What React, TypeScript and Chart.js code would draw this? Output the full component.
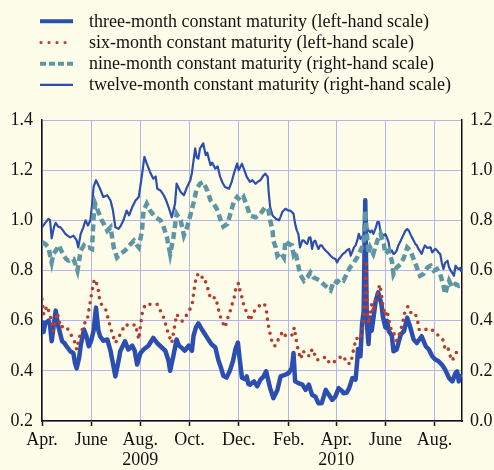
import React, { useEffect, useRef } from 'react';
import { Chart, registerables } from 'chart.js';

Chart.register(...registerables);

// ---- axis ticks (month starts), x values are days since 1 Apr 2009 ----
const tickMonths: [number, number][] = [
  [2009, 3], [2009, 5], [2009, 7], [2009, 9], [2009, 11],
  [2010, 1], [2010, 3], [2010, 5], [2010, 7],
];
const tickLabels = ['Apr.', 'June', 'Aug.', 'Oct.', 'Dec.', 'Feb.', 'Apr.', 'June', 'Aug.'];
const tickYears = ['', '', '2009', '', '', '', '2010', '', ''];
const START = Date.UTC(2009, 3, 1);
const tickDays = tickMonths.map(([y, m]) => Math.round((Date.UTC(y, m, 1) - START) / 86400000));
const X_MAX = 521;

const leftTicks = [0.2, 0.4, 0.6, 0.8, 1.0, 1.2, 1.4];
const rightTicks = [0.0, 0.2, 0.4, 0.6, 0.8, 1.0, 1.2];

// ---- three-month (left-hand scale) ----
const threeMonthDay = [
  0, 2, 4, 8, 10, 12, 17, 20, 25, 28,
  30, 35, 39, 41, 43, 46, 48, 52, 55, 58,
  61, 64, 67, 70, 72, 76, 81, 85, 88, 91,
  95, 97, 103, 107, 112, 115, 118, 122, 126, 132,
  138, 143, 147, 153, 157, 159, 163, 167, 170, 173,
  177, 182, 186, 188, 191, 194, 198, 202, 206, 210,
  215, 219, 222, 225, 229, 233, 237, 240, 243, 245,
  248, 252, 254, 256, 258, 263, 267, 271, 275, 278,
  283, 287, 292, 296, 302, 306, 310, 312, 314, 318,
  323, 327, 331, 335, 339, 343, 347, 352, 356, 360,
  364, 368, 372, 374, 378, 381, 385, 389, 391, 392,
  395, 397, 399, 401, 403, 405, 407, 409, 411, 414,
  417, 421, 423, 426, 428, 430, 434, 436, 440, 445,
  449, 453, 457, 461, 465, 471, 476, 480, 484, 488,
  492, 496, 500, 505, 509, 513, 515, 517, 519,
];
const threeMonthRate = [
  0.60, 0.555, 0.59, 0.60, 0.58, 0.518, 0.64, 0.58, 0.518, 0.51,
  0.50, 0.478, 0.47, 0.43, 0.41, 0.45, 0.50, 0.565, 0.54, 0.498,
  0.52, 0.56, 0.652, 0.56, 0.538, 0.52, 0.525, 0.48, 0.43, 0.378,
  0.44, 0.478, 0.518, 0.485, 0.50, 0.48, 0.425, 0.47, 0.485, 0.50,
  0.531, 0.51, 0.498, 0.48, 0.44, 0.40, 0.46, 0.525, 0.50, 0.493,
  0.48, 0.50, 0.48, 0.54, 0.573, 0.589, 0.567, 0.547, 0.527, 0.507,
  0.493, 0.44, 0.413, 0.38, 0.373, 0.40, 0.44, 0.487, 0.513, 0.453,
  0.373, 0.367, 0.378, 0.347, 0.345, 0.358, 0.338, 0.365, 0.378, 0.398,
  0.331, 0.291, 0.324, 0.378, 0.385, 0.391, 0.411, 0.471, 0.358, 0.351,
  0.345, 0.324, 0.345, 0.304, 0.298, 0.271, 0.271, 0.324, 0.304, 0.284,
  0.298, 0.331, 0.32, 0.311, 0.313, 0.331, 0.371, 0.365, 0.438, 0.487,
  0.458, 0.585, 0.638, 1.08, 0.587, 0.507, 0.613, 0.56, 0.607, 0.68,
  0.713, 0.667, 0.613, 0.573, 0.60, 0.56, 0.54, 0.478, 0.485, 0.545,
  0.558, 0.612, 0.572, 0.525, 0.511, 0.538, 0.498, 0.485, 0.458, 0.445,
  0.438, 0.425, 0.405, 0.371, 0.358, 0.391, 0.398, 0.358, 0.39,
];

// ---- six-month (left-hand scale) ----
const sixMonthDay = [
  0, 2, 6, 10, 14, 19, 23, 27, 31, 37,
  40, 43, 46, 50, 54, 56, 59, 62, 65, 69,
  72, 79, 85, 91, 97, 103, 110, 116, 120, 124,
  128, 136, 143, 151, 157, 161, 167, 174, 180, 186,
  190, 193, 196, 200, 204, 207, 209, 215, 218, 220,
  223, 227, 230, 233, 236, 239, 241, 244, 246, 248,
  251, 254, 258, 262, 266, 272, 276, 279, 280, 282,
  284, 287, 290, 294, 299, 302, 306, 311, 313, 315,
  316, 318, 321, 324, 328, 333, 335, 338, 341, 345,
  347, 352, 357, 363, 368, 374, 378, 383, 387, 390,
  393, 397, 399, 401, 402, 403, 405, 407, 409, 411,
  413, 415, 417, 419, 421, 423, 426, 428, 430, 434,
  436, 440, 444, 447, 450, 454, 458, 463, 466, 468,
  473, 479, 483, 487, 492, 497, 499, 501, 504, 507,
  509, 512, 514, 517,
];
const sixMonthRate = [
  0.685, 0.625, 0.658, 0.625, 0.558, 0.632, 0.572, 0.58, 0.572, 0.538,
  0.52, 0.485, 0.53, 0.565, 0.598, 0.60, 0.658, 0.718, 0.765, 0.74,
  0.672, 0.645, 0.572, 0.511, 0.545, 0.585, 0.578, 0.585, 0.525, 0.625,
  0.665, 0.665, 0.665, 0.612, 0.545, 0.511, 0.625, 0.598, 0.625, 0.66,
  0.753, 0.784, 0.767, 0.776, 0.747, 0.713, 0.687, 0.693, 0.66, 0.627,
  0.60, 0.573, 0.607, 0.633, 0.667, 0.70, 0.74, 0.749, 0.713, 0.693,
  0.653, 0.633, 0.60, 0.633, 0.647, 0.667, 0.667, 0.629, 0.593, 0.563,
  0.531, 0.50, 0.50, 0.533, 0.557, 0.54, 0.537, 0.544, 0.573, 0.53,
  0.513, 0.477, 0.447, 0.48, 0.46, 0.46, 0.487, 0.467, 0.443, 0.447,
  0.447, 0.456, 0.429, 0.437, 0.451, 0.46, 0.429, 0.429, 0.493, 0.531,
  0.523, 0.547, 0.613, 0.72, 0.84, 0.653, 0.587, 0.62, 0.667, 0.633,
  0.67, 0.693, 0.72, 0.744, 0.707, 0.653, 0.62, 0.64, 0.607, 0.553,
  0.553, 0.52, 0.553, 0.587, 0.633, 0.657, 0.629, 0.629, 0.597, 0.563,
  0.563, 0.567, 0.567, 0.553, 0.54, 0.527, 0.50, 0.48, 0.487, 0.453,
  0.44, 0.464, 0.473, 0.483,
];

// ---- nine-month (right-hand scale) ----
const nineMonthDay = [
  0, 4, 8, 10, 12, 14, 17, 21, 23, 27,
  30, 33, 36, 39, 42, 44, 48, 52, 55, 58,
  62, 64, 66, 70, 74, 76, 81, 85, 89, 93,
  97, 103, 110, 114, 118, 120, 124, 126, 130, 134,
  141, 147, 151, 155, 159, 163, 167, 172, 176, 180,
  184, 188, 192, 196, 200, 205, 209, 213, 217, 221,
  225, 230, 234, 238, 242, 246, 250, 254, 258, 265,
  271, 277, 281, 283, 286, 287, 290, 292, 296, 300,
  302, 306, 310, 312, 314, 318, 320, 325, 329, 333,
  337, 341, 345, 349, 354, 358, 362, 366, 370, 374,
  378, 382, 387, 391, 395, 399, 401, 403, 405, 407,
  411, 416, 420, 424, 426, 430, 434, 436, 440, 445,
  449, 453, 457, 461, 465, 469, 473, 478, 482, 486,
  490, 494, 498, 500, 505, 509, 513, 517, 519,
];
const nineMonthRate = [
  0.712, 0.706, 0.692, 0.66, 0.632, 0.665, 0.679, 0.70, 0.685, 0.659,
  0.645, 0.639, 0.645, 0.646, 0.62, 0.60, 0.679, 0.70, 0.69, 0.692,
  0.686, 0.812, 0.866, 0.833, 0.80, 0.79, 0.759, 0.772, 0.692, 0.652,
  0.666, 0.679, 0.706, 0.719, 0.70, 0.692, 0.759, 0.839, 0.866, 0.839,
  0.812, 0.80, 0.772, 0.732, 0.666, 0.732, 0.826, 0.80, 0.74, 0.773,
  0.82, 0.87, 0.926, 0.946, 0.953, 0.919, 0.88, 0.866, 0.845, 0.807,
  0.775, 0.786, 0.83, 0.875, 0.893, 0.879, 0.893, 0.859, 0.819, 0.812,
  0.826, 0.853, 0.839, 0.80, 0.759, 0.719, 0.692, 0.659, 0.672, 0.652,
  0.719, 0.706, 0.70, 0.666, 0.679, 0.619, 0.586, 0.559, 0.572, 0.592,
  0.572, 0.566, 0.559, 0.546, 0.532, 0.521, 0.559, 0.552, 0.566, 0.56,
  0.586, 0.612, 0.632, 0.652, 0.679, 0.706, 0.839, 0.746, 0.666, 0.692,
  0.666, 0.719, 0.746, 0.706, 0.666, 0.679, 0.639, 0.586, 0.612, 0.626,
  0.652, 0.692, 0.679, 0.646, 0.612, 0.579, 0.586, 0.612, 0.619, 0.599,
  0.606, 0.586, 0.539, 0.506, 0.559, 0.532, 0.546, 0.539, 0.54,
];

// ---- twelve-month (right-hand scale) ----
const twelveMonthDay = [
  0, 4, 8, 10, 12, 15, 17, 20, 23, 26,
  29, 32, 35, 39, 43, 45, 48, 51, 54, 57,
  60, 62, 64, 67, 70, 72, 76, 81, 85, 88,
  91, 95, 98, 101, 105, 108, 112, 116, 120, 124,
  127, 130, 134, 138, 141, 143, 147, 151, 154, 157,
  161, 165, 167, 172, 176, 180, 184, 186, 190, 192,
  194, 196, 200, 203, 205, 209, 211, 215, 218, 221,
  224, 227, 232, 235, 238, 242, 244, 248, 251, 254,
  258, 261, 265, 268, 271, 275, 277, 280, 281, 283,
  286, 290, 294, 296, 298, 302, 305, 308, 312, 314,
  316, 318, 320, 323, 325, 327, 329, 331, 333, 335,
  337, 339, 341, 343, 345, 347, 349, 352, 355, 358,
  361, 364, 366, 368, 370, 373, 376, 378, 381, 383,
  385, 387, 389, 391, 393, 395, 397, 399, 401, 403,
  405, 407, 409, 411, 414, 416, 418, 420, 422, 424,
  426, 428, 430, 432, 434, 436, 438, 440, 442, 445,
  448, 451, 453, 455, 457, 459, 461, 463, 465, 467,
  469, 471, 473, 475, 478, 482, 484, 486, 488, 490,
  492, 494, 496, 498, 500, 503, 505, 507, 509, 511,
  513, 515, 517, 519, 520,
];
const twelveMonthRate = [
  0.772, 0.79, 0.806, 0.80, 0.728, 0.775, 0.79, 0.775, 0.772, 0.76,
  0.746, 0.738, 0.732, 0.739, 0.72, 0.692, 0.746, 0.77, 0.80, 0.779,
  0.80, 0.86, 0.933, 0.96, 0.94, 0.926, 0.893, 0.90, 0.879, 0.84,
  0.772, 0.766, 0.78, 0.80, 0.839, 0.82, 0.853, 0.879, 0.893, 0.98,
  1.053, 1.026, 0.993, 0.966, 0.975, 0.926, 0.919, 0.90, 0.88, 0.853,
  0.812, 0.866, 0.946, 0.913, 0.90, 0.933, 0.96, 0.99, 1.087, 1.05,
  1.046, 1.087, 1.107, 1.06, 1.07, 1.02, 1.03, 1.006, 1.015, 0.973,
  0.95, 0.933, 0.926, 0.95, 0.986, 1.026, 1.0, 1.026, 1.0, 0.973,
  0.953, 0.96, 0.946, 0.955, 0.96, 0.98, 0.986, 0.973, 0.92, 0.853,
  0.819, 0.806, 0.80, 0.815, 0.833, 0.846, 0.84, 0.839, 0.826, 0.786,
  0.76, 0.746, 0.692, 0.72, 0.719, 0.71, 0.706, 0.73, 0.732, 0.686,
  0.715, 0.719, 0.70, 0.686, 0.70, 0.70, 0.69, 0.679, 0.67, 0.659,
  0.65, 0.646, 0.632, 0.645, 0.652, 0.665, 0.672, 0.68, 0.686, 0.659,
  0.675, 0.692, 0.70, 0.719, 0.746, 0.726, 0.735, 0.739, 0.879, 0.772,
  0.76, 0.752, 0.76, 0.746, 0.77, 0.793, 0.793, 0.752, 0.745, 0.739,
  0.745, 0.73, 0.712, 0.672, 0.68, 0.666, 0.67, 0.679, 0.70, 0.719,
  0.74, 0.759, 0.765, 0.759, 0.745, 0.732, 0.72, 0.706, 0.70, 0.686,
  0.676, 0.666, 0.685, 0.70, 0.69, 0.692, 0.672, 0.68, 0.686, 0.68,
  0.672, 0.666, 0.63, 0.606, 0.63, 0.639, 0.612, 0.599, 0.59, 0.579,
  0.619, 0.61, 0.606, 0.61, 0.595,
];

const seriesLabels = [
  'three-month constant maturity (left-hand scale)',
  'six-month constant maturity (left-hand scale)',
  'nine-month constant maturity (right-hand scale)',
  'twelve-month constant maturity (right-hand scale)',
];

const BG = '#fefde9';
const GRID = '#b3b6ee';
const BLUE = '#2c4eb0';
const RED = '#b83c2c';
const TEAL = '#5e96a6';
const FONT = '"Liberation Serif", "Times New Roman", serif';
const FONT_SIZE = 18;

const toPoints = (days: number[], vals: number[]) => days.map((d, i) => ({ x: d, y: vals[i] }));

const bgPlugin = {
  id: 'bg',
  beforeDraw(chart: any) {
    const { ctx, width, height } = chart;
    ctx.save();
    ctx.fillStyle = BG;
    ctx.fillRect(0, 0, width, height);
    ctx.restore();
  },
};

const legendPlugin = {
  id: 'customLegend',
  afterDraw(chart: any) {
    const ctx = chart.ctx;
    ctx.save();
    chart.data.datasets.forEach((ds: any, i: number) => {
      const y = 21.3 + i * 21.2;
      ctx.beginPath();
      ctx.strokeStyle = ds.borderColor;
      ctx.lineWidth = ds.legendWidth || ds.borderWidth;
      ctx.lineCap = ds.borderCapStyle || 'butt';
      ctx.setLineDash(ds.legendDash || []);
      ctx.moveTo(ds.legendStart ?? 40, y);
      ctx.lineTo(73, y);
      ctx.stroke();
      ctx.setLineDash([]);
      ctx.fillStyle = '#111';
      ctx.font = `${FONT_SIZE}px ${FONT}`;
      ctx.textBaseline = 'middle';
      ctx.textAlign = 'left';
      ctx.fillText(ds.label, 89, y + 0.5);
    });
    ctx.restore();
  },
};

export default function App() {
  const ref = useRef<HTMLCanvasElement | null>(null);

  useEffect(() => {
    document.body.style.margin = '0';
    const canvas = ref.current;
    if (!canvas) return;
    const chart = new Chart(canvas, {
      type: 'line',
      data: {
        datasets: [
          {
            label: seriesLabels[0],
            data: toPoints(threeMonthDay, threeMonthRate),
            yAxisID: 'y',
            borderColor: BLUE,
            borderWidth: 4.5,
            legendWidth: 4,
            borderJoinStyle: 'round',
            pointRadius: 0,
            order: 2,
          } as any,
          {
            label: seriesLabels[1],
            data: toPoints(sixMonthDay, sixMonthRate),
            yAxisID: 'y',
            borderColor: RED,
            borderWidth: 3.6,
            borderDash: [0, 7.2],
            borderCapStyle: 'round',
            legendDash: [0, 8],
            legendWidth: 3.2,
            legendStart: 41,
            pointRadius: 0,
            order: 0,
          } as any,
          {
            label: seriesLabels[2],
            data: toPoints(nineMonthDay, nineMonthRate),
            yAxisID: 'y1',
            borderColor: TEAL,
            borderWidth: 4.5,
            borderDash: [7, 4],
            legendDash: [6, 3],
            legendWidth: 4,
            pointRadius: 0,
            order: 1,
          } as any,
          {
            label: seriesLabels[3],
            data: toPoints(twelveMonthDay, twelveMonthRate),
            yAxisID: 'y1',
            borderColor: BLUE,
            borderWidth: 2.2,
            borderJoinStyle: 'round',
            pointRadius: 0,
            order: 3,
          } as any,
        ],
      },
      options: {
        responsive: false,
        animation: false,
        devicePixelRatio: 1,
        layout: { padding: { top: 120, left: 0, right: 0, bottom: 0 } },
        plugins: {
          legend: { display: false },
          tooltip: { enabled: false },
          title: { display: false },
        },
        elements: { line: { tension: 0 } },
        scales: {
          x: {
            type: 'linear',
            min: 0,
            max: X_MAX,
            afterBuildTicks: (scale: any) => {
              scale.ticks = tickDays.map((v) => ({ value: v }));
            },
            afterFit: (scale: any) => {
              scale.height = 49;
            },
            ticks: {
              autoSkip: false,
              maxRotation: 0,
              padding: 4,
              color: '#111',
              font: { family: FONT, size: FONT_SIZE, lineHeight: 1.12 },
              callback: (_v: any, i: number) =>
                tickYears[i] ? [tickLabels[i], tickYears[i]] : tickLabels[i],
            },
            grid: {
              color: GRID,
              lineWidth: 1,
              drawTicks: true,
              tickLength: 5,
              tickColor: '#111',
              tickWidth: 1.5,
            },
            border: { display: true, color: '#111', width: 1.5 },
          },
          y: {
            type: 'linear',
            position: 'left',
            min: 0.2,
            max: 1.4,
            afterBuildTicks: (scale: any) => {
              scale.ticks = leftTicks.map((v) => ({ value: v }));
            },
            afterFit: (scale: any) => {
              scale.width = 42;
            },
            ticks: {
              padding: 9,
              color: '#111',
              font: { family: FONT, size: FONT_SIZE },
              callback: (v: any) => Number(v).toFixed(1),
            },
            grid: { color: GRID, lineWidth: 1, drawTicks: false },
            border: { display: true, color: '#111', width: 1.5 },
          },
          y1: {
            type: 'linear',
            position: 'right',
            min: 0,
            max: 1.2,
            afterBuildTicks: (scale: any) => {
              scale.ticks = rightTicks.map((v) => ({ value: v }));
            },
            afterFit: (scale: any) => {
              scale.width = 32;
            },
            ticks: {
              padding: 8,
              color: '#111',
              font: { family: FONT, size: FONT_SIZE },
              callback: (v: any) => Number(v).toFixed(1),
            },
            grid: { drawOnChartArea: false, drawTicks: false },
            border: { display: true, color: '#111', width: 1.5 },
          },
        },
      } as any,
      plugins: [bgPlugin, legendPlugin],
    });
    return () => chart.destroy();
  }, []);

  return (
    <div style={{ position: 'fixed', left: 0, top: 0, width: 494, height: 470, background: BG }}>
      <canvas ref={ref} width={494} height={470} style={{ display: 'block', width: 494, height: 470 }} />
    </div>
  );
}
